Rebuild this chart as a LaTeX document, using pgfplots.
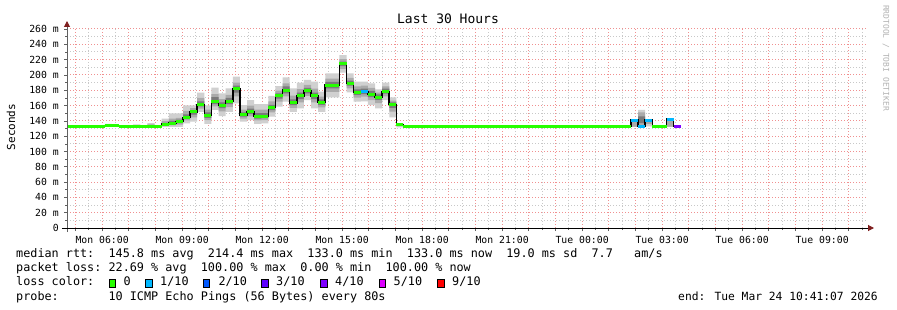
\documentclass[border=0pt]{standalone}
\usepackage{fontspec}
\setmainfont{DejaVu Sans Mono}
\usepackage{pgfplots}
\pgfplotsset{compat=1.18}
\usepackage{pgfplotstable}
\usepgfplotslibrary{fillbetween}
\usetikzlibrary{arrows.meta}
\definecolor{lc0}{HTML}{26FF00}
\definecolor{lc1}{HTML}{00B8FF}
\definecolor{lc2}{HTML}{0059FF}
\definecolor{lc3}{HTML}{5E00FF}
\definecolor{lc4}{HTML}{7E00FF}
\definecolor{lc5}{HTML}{DD00FF}
\definecolor{lc9}{HTML}{FF0000}
\definecolor{majgrid}{HTML}{F09090}
\definecolor{mingrid}{HTML}{C8C8C8}
\definecolor{smA}{HTML}{D0D0D0}
\definecolor{smB}{HTML}{AAAAAA}
\definecolor{smC}{HTML}{7A7A7A}
\definecolor{arrowred}{HTML}{7F1F1F}
\definecolor{axgray}{HTML}{606060}

\pgfplotstableread{
t med olo ohi mlo mhi ilo ihi
4.683 133 133 133 133 133 133 133
6.101 133.5 132.5 136 133 135 133 134.5
6.367 133.5 132.5 135.5 133 134.5 133 134.5
6.634 133 133 133 133 133 133 133
7.167 133 132.5 135.5 133 134.5 133 134
7.434 133 133 133 133 133 133 133
7.701 133 132.5 137 133 135.5 133 134.5
7.967 133 133 133 133 133 133 133
8.234 135.5 132 143 133.5 139.5 134.5 137.5
8.501 136.8 132 149.6 134 143 135.5 140
8.767 138.9 132 149.6 135 144 137 141.5
9.034 144.6 136.8 160.3 140.5 153 142.5 148.5
9.301 151.6 138.9 160.3 144.5 156.5 148 154
9.567 161.6 151.6 176.8 156 170 159 165.5
9.834 147.2 135.9 160.3 141 154.5 144 151
10.101 165 154.2 183.3 159 175 162 171
10.367 159.8 146.3 176 152.5 168.5 156.5 164
10.634 165.9 151.6 182.5 158 174 162 170
10.901 182 162.9 197.7 172 190 177 186
11.167 148 138.9 160.7 143 154.5 145.5 151
11.434 152 141.1 167.2 146 160 149 156
11.701 146 135.9 162 140.5 154.5 143 150
11.968 146 136.8 162 141 154.5 143.5 150
12.234 157.2 145.4 172.5 151 165.5 154 161
12.501 172.5 158.5 185.5 165 179.5 169 176
12.768 180.3 165 196.9 172 189 176 185
13.034 163.7 151.6 182.5 157 173 160.5 168
13.301 172.5 156.4 189.9 164 181.5 168.5 177
13.568 179.4 167.2 193.4 172.5 187 176 183
13.834 172.5 156.4 191.2 164 182 168.5 177
14.101 164.6 151.6 178.1 157.5 171.5 161 168
14.368 186.8 170.7 202.1 178 195 182.5 191
14.634 186.8 170.7 202.1 178 195 182.5 191
14.901 214.3 202.9 226 208 220.5 211.5 217.5
15.168 189 177.3 202.1 182.5 196 186 192.5
15.434 177.3 165 191.2 170.5 185 174 181
15.701 178.5 165.5 191.2 171.5 186 175 182
15.968 175 160.7 189 167 183 171 179
16.234 171.1 156.4 181.2 163 177 167.5 174.5
16.501 178.5 167.2 189.9 172 185 175.5 182
16.768 161.6 144.6 170.7 152 166.5 157 164
17.034 134.6 131.6 136.8 133 136 133.8 135.5
17.301 133 133 133 133 133 133 133
25.833 141.1 132.3 140.5 132.3 140.5 133 133
26.100 132.4 134.6 154.2 134.6 151 137 146
26.366 141.1 133 140 136 140 133 133
26.633 133 133 133 133 133 133 133
27.165 142.4 132.3 140.5 132.3 140.5 133 133
27.431 132.4 132.4 132.4 132.4 132.4 132.4 132.4
27.698 132.4 132.4 132.4 132.4 132.4 132.4 132.4
}\smoke

\begin{document}
\begin{tikzpicture}
\path (-67bp,-82bp) rectangle (830bp,228bp);
\begin{axis}[
  at={(0,0)}, anchor=south west,
  scale only axis, width=800bp, height=199bp,
  xmin=4.683, xmax=34.683, ymin=0, ymax=260,
  axis line style={draw=none},
  xtick={5,6,...,34}, xticklabels={},
  minor xtick={4.5,5.5,...,34.5},
  extra x ticks={6,9,...,33},
  extra x tick labels={Mon 06:00,Mon 09:00,Mon 12:00,Mon 15:00,Mon 18:00,Mon 21:00,Tue 00:00,Tue 03:00,Tue 06:00,Tue 09:00},
  extra x tick style={grid=none},
  ytick={0,20,...,260},
  yticklabels={0,20 m,40 m,60 m,80 m,100 m,120 m,140 m,160 m,180 m,200 m,220 m,240 m,260 m},
  minor ytick={10,30,...,250},
  grid=both,
  major grid style={majgrid, dash pattern=on 1bp off 2bp, line width=1bp},
  minor grid style={mingrid, dash pattern=on 1bp off 2bp, line width=1bp},
  tick pos=left, tick align=outside,
  major tick length=3bp, minor tick length=2bp,
  tick style={axgray, line width=0.6bp},
  xticklabel style={font=\fontsize{9.8bp}{11bp}\selectfont, inner sep=0pt, anchor=north, yshift=-5bp},
  yticklabel style={font=\fontsize{9.8bp}{11bp}\selectfont, inner sep=0pt, anchor=east, xshift=-5bp},
]
\addplot[draw=none, const plot, name path=olo] table[x=t,y=olo]{\smoke};
\addplot[draw=none, const plot, name path=ohi] table[x=t,y=ohi]{\smoke};
\addplot[draw=none, const plot, name path=mlo] table[x=t,y=mlo]{\smoke};
\addplot[draw=none, const plot, name path=mhi] table[x=t,y=mhi]{\smoke};
\addplot[draw=none, const plot, name path=ilo] table[x=t,y=ilo]{\smoke};
\addplot[draw=none, const plot, name path=ihi] table[x=t,y=ihi]{\smoke};
\addplot[smA, draw=none] fill between[of=olo and ohi];
\addplot[smB, draw=none] fill between[of=mlo and mhi];
\addplot[smC, draw=none] fill between[of=ilo and ihi];
\addplot[black, line width=1.6bp, const plot] table[x=t,y=med]{\smoke};
\addplot[lc0, line width=3bp, jump mark left] table[x=t,y=med]{\smoke};
\addplot[lc1, line width=3bp] coordinates {(15.701,178.5) (15.968,178.5)};
\addplot[lc1, line width=3bp] coordinates {(25.833,141.1) (26.100,141.1)};
\addplot[lc1, line width=3bp] coordinates {(26.100,132.4) (26.366,132.4)};
\addplot[lc1, line width=3bp] coordinates {(26.366,141.1) (26.633,141.1)};
\addplot[lc1, line width=3bp] coordinates {(27.165,142.4) (27.431,142.4)};
\addplot[lc4, line width=3bp] coordinates {(27.431,132.4) (27.698,132.4)};
\end{axis}
% axis lines
\draw[axgray, line width=1bp, -{Triangle[length=6bp,width=6bp,color=arrowred,fill=arrowred]}] (0bp,-4bp) -- (0bp,207bp);
\draw[black, line width=1bp, -{Triangle[length=6bp,width=6bp,color=arrowred,fill=arrowred]}] (-5bp,0bp) -- (807bp,0bp);
% texts
\node[font=\fontsize{13bp}{15bp}\selectfont, anchor=base] at (381bp,204bp) {Last 30 Hours};
\node[font=\fontsize{11bp}{13bp}\selectfont, rotate=90, anchor=center] at (-56bp,101bp) {Seconds};
\node[font=\fontsize{8bp}{9bp}\selectfont, rotate=-90, anchor=center, text=black!30] at (819bp,170bp) {RRDTOOL / TOBI OETIKER};
\begin{scope}[every node/.style={font=\fontsize{11.8bp}{14bp}\selectfont, inner sep=0pt}]
\node[anchor=base west] at (-51bp,-29.5bp) {median rtt:~~145.8 ms avg~~214.4 ms max~~133.0 ms min~~133.0 ms now~~19.0 ms sd~~7.7~~~am/s};
\node[anchor=base west] at (-51bp,-43.7bp) {packet loss:~22.69 \% avg~~100.00 \% max~~0.00 \% min~~100.00 \% now};
\node[anchor=base west] at (-51bp,-57.7bp) {loss color:};
\node[anchor=base west] at (-51bp,-72bp) {probe:~~~~~~~10 ICMP Echo Pings (56 Bytes) every 80s};
\node[anchor=base east, font=\fontsize{11.3bp}{14bp}\selectfont] at (811bp,-72bp) {end: Tue Mar 24 10:41:07 2026};
\node[anchor=base west] at (56.3bp,-57.7bp) {0};
\node[anchor=base west] at (93bp,-57.7bp) {1/10};
\node[anchor=base west] at (151.3bp,-57.7bp) {2/10};
\node[anchor=base west] at (209bp,-57.7bp) {3/10};
\node[anchor=base west] at (268bp,-57.7bp) {4/10};
\node[anchor=base west] at (326.5bp,-57.7bp) {5/10};
\node[anchor=base west] at (385bp,-57.7bp) {9/10};
\end{scope}
\foreach \xx/\cc in {42/lc0,78.7/lc1,136.3/lc2,194.7/lc3,253.5/lc4,312/lc5,370.5/lc9}{
  \draw[black, line width=0.8bp, fill=\cc] (\xx bp,-51.5bp) rectangle ++(6.5bp,-8bp);
}
\end{tikzpicture}
\end{document}
